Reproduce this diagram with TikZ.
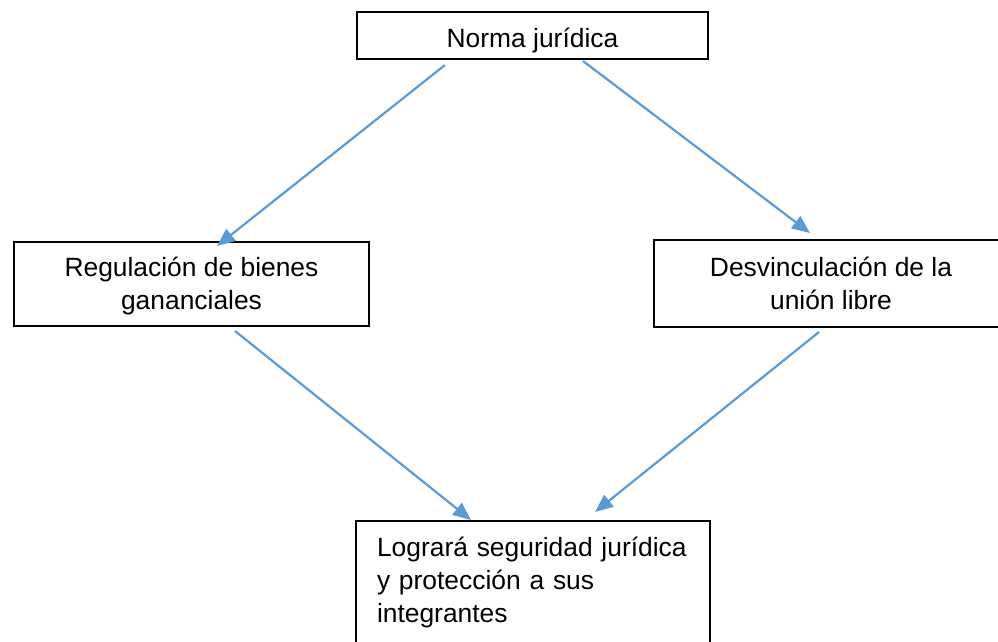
\documentclass[tikz,border=0pt]{standalone}
\usepackage{fontspec}
\setmainfont{Liberation Sans}
\usetikzlibrary{arrows.meta}
\definecolor{arrowblue}{HTML}{5B9BD5}
\newcommand{\tstrut}[1]{\rule{0pt}{#1pt}}
\newcommand{\bstrut}[1]{\rule[-#1pt]{0pt}{0pt}}
\begin{document}
\begin{tikzpicture}[x=1pt,y=-1pt,
  box/.style={draw=black, line width=2pt, inner xsep=0pt, inner ysep=0pt,
    minimum height=0pt, align=center, font=\fontsize{26.4}{33}\selectfont, minimum width=#1},
  conn/.style={draw=arrowblue, line width=2.2pt, -{Triangle[length=18pt,width=15pt]}}]
\useasboundingbox (0,0) rectangle (998,641);
\node[box=351pt, anchor=north] (norma) at (532.5,11) {\tstrut{35}Norma jurídica\bstrut{12}};
\node[box=355pt, anchor=north west] (regul) at (13,241) {\tstrut{34}Regulación de bienes\\gananciales\bstrut{17}};
\node[box=354pt, anchor=north west] (desv) at (653,239) {\tstrut{36}Desvinculación de la\\unión libre\bstrut{18}};
\node[box=354pt, anchor=north west, align=left, text width=312pt, inner xsep=21pt] (logra) at (355,520)
  {\tstrut{35}Logrará seguridad jurídica\\y protección a sus\\integrantes\bstrut{49}};
\coordinate (a1s) at (445,65);  \coordinate (a1e) at (217,246);
\coordinate (a2s) at (583,61);  \coordinate (a2e) at (810,233);
\coordinate (a3s) at (235,331); \coordinate (a3e) at (471,520);
\coordinate (a4s) at (819,332); \coordinate (a4e) at (595,512);
\draw[conn] (a1s) -- (a1e);
\draw[conn] (a2s) -- (a2e);
\draw[conn] (a3s) -- (a3e);
\draw[conn] (a4s) -- (a4e);
\end{tikzpicture}
\end{document}
